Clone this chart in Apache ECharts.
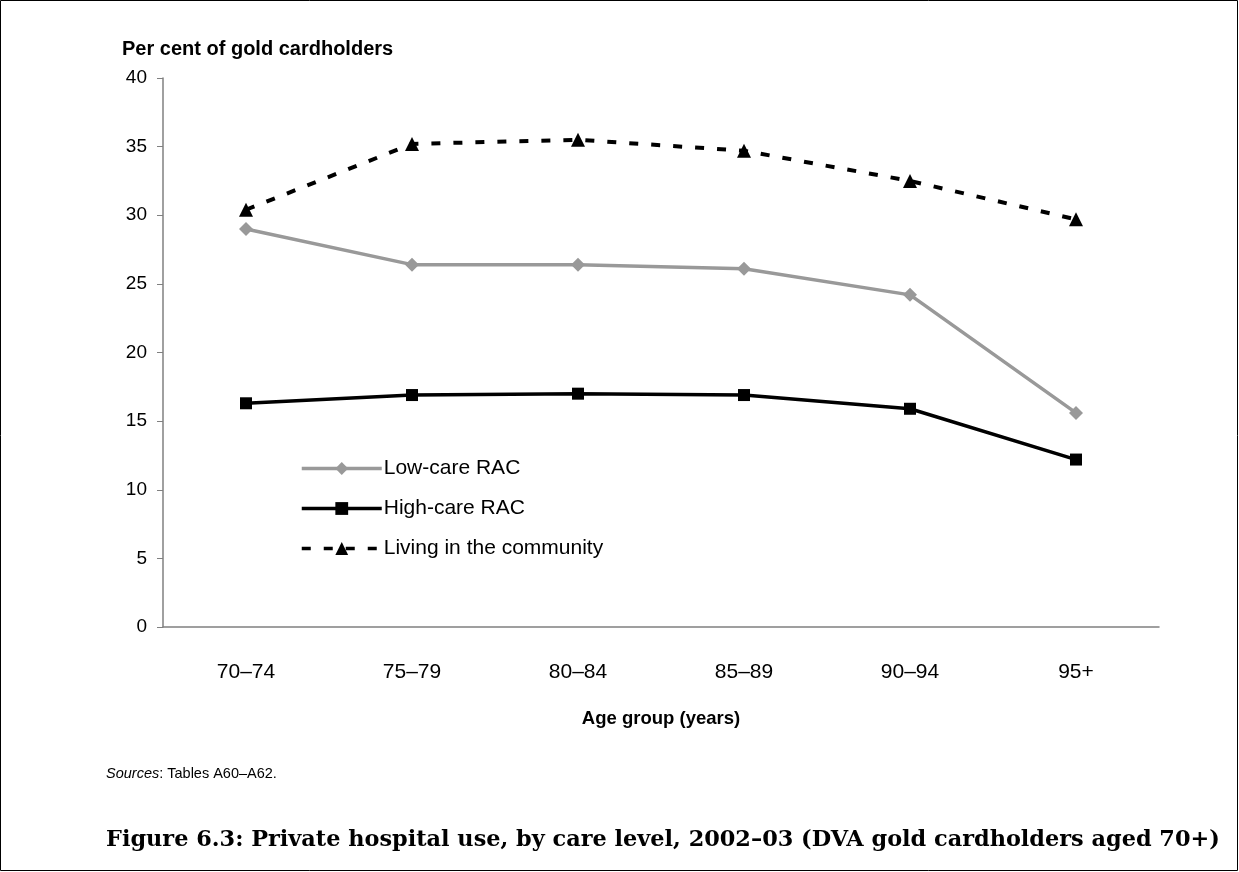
<!DOCTYPE html>
<html>
<head>
<meta charset="utf-8">
<script src="https://cdn.jsdelivr.net/npm/echarts@6/dist/echarts.min.js"></script>
<style>
html,body{margin:0;padding:0;background:#fff;}
#chart{width:1239px;height:872px;}
</style>
</head>
<body>
<div id="chart"></div>
<script>
var categories = ['70–74', '75–79', '80–84', '85–89', '90–94', '95+'];
var lowCare = [29.0, 26.4, 26.4, 26.1, 24.2, 15.6];
var highCare = [16.3, 16.9, 17.0, 16.9, 15.9, 12.2];
var community = [30.4, 35.2, 35.5, 34.7, 32.5, 29.7];
var seriesNames = ['Low-care RAC', 'High-care RAC', 'Living in the community'];
var yTicks = { min: 0, max: 40, interval: 5 };

var chart = echarts.init(document.getElementById('chart'), null, { renderer: 'canvas' });
var font = 'Liberation Sans, Arial, sans-serif';
chart.setOption({
  backgroundColor: '#fff',
  animation: false,
  title: {
    text: 'Per cent of gold cardholders',
    left: 117, top: 34,
    textStyle: { fontFamily: font, fontSize: 20, fontWeight: 'bold', color: '#000' }
  },
  legend: {
    orient: 'vertical',
    left: 295, top: 453,
    itemWidth: 80, itemHeight: 16, itemGap: 19,
    lineStyle: { width: 3.5 },
    textStyle: { fontFamily: font, fontSize: 21, color: '#000', padding: [0, 0, 0, -3] },
    data: seriesNames
  },
  grid: { left: 163, right: 80, top: 78, bottom: 245, containLabel: false },
  xAxis: {
    type: 'category',
    data: categories,
    boundaryGap: true,
    axisLine: { lineStyle: { color: '#808080', width: 1.5 } },
    axisTick: { alignWithLabel: true, length: 6, lineStyle: { color: '#000' } },
    axisLabel: { margin: 35, fontFamily: font, fontSize: 21, color: '#000' },
    name: 'Age group (years)',
    nameLocation: 'middle',
    nameGap: 82,
    nameTextStyle: { fontFamily: font, fontSize: 18.5, fontWeight: 'bold', color: '#000' }
  },
  yAxis: {
    type: 'value',
    min: yTicks.min, max: yTicks.max, interval: yTicks.interval,
    splitLine: { show: false },
    axisLine: { show: true, lineStyle: { color: '#808080', width: 1.5 } },
    axisTick: { show: true, length: 6, lineStyle: { color: '#808080' } },
    axisLabel: { margin: 16, fontFamily: font, fontSize: 19, color: '#000' }
  },
  series: [
    {
      name: seriesNames[0], type: 'line', data: lowCare,
      symbol: 'diamond', symbolSize: 14,
      lineStyle: { color: '#999999', width: 3.5 },
      itemStyle: { color: '#999999' }
    },
    {
      name: seriesNames[1], type: 'line', data: highCare,
      symbol: 'rect', symbolSize: 12,
      lineStyle: { color: '#000', width: 3.5 },
      itemStyle: { color: '#000' }
    },
    {
      name: seriesNames[2], type: 'line', data: community,
      symbol: 'triangle', symbolSize: 14,
      lineStyle: { color: '#000', width: 4, type: [9, 13] },
      itemStyle: { color: '#000' }
    }
  ],
  graphic: [
    {
      type: 'rect', silent: true,
      shape: { x: 0.5, y: 0.5, width: 1237, height: 870 },
      style: { fill: 'none', stroke: '#000', lineWidth: 1 }
    },
    {
      type: 'text', left: 106, top: 766,
      style: {
        text: '{i|Sources}: Tables A60–A62.',
        font: '14.5px Liberation Sans, Arial, sans-serif',
        fill: '#000',
        rich: { i: { fontStyle: 'italic', fontSize: 14.5, fontFamily: font } }
      }
    },
    {
      type: 'text', left: 106, top: 829,
      style: {
        text: 'Figure 6.3: Private hospital use, by care level, 2002–03 (DVA gold cardholders aged 70+)',
        font: 'bold 22.4px DejaVu Serif, serif',
        fill: '#000'
      }
    }
  ]
});
</script>
</body>
</html>
